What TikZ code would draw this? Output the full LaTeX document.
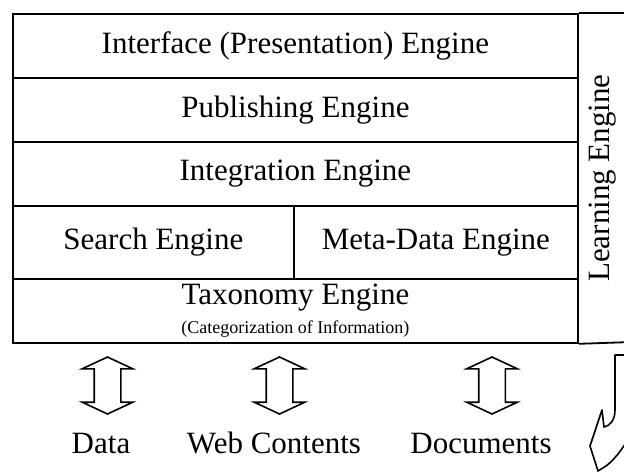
\documentclass[tikz,border=0pt]{standalone}
\usepackage{fontspec}
\setmainfont{Liberation Serif}
\usetikzlibrary{shapes.arrows, positioning}

\begin{document}
\begin{tikzpicture}[
  x=1pt, y=-1pt,
  every node/.style={font=\fontsize{31}{33}\selectfont},
  layer/.style={rectangle, draw=black, line width=1.8pt, inner sep=0pt, anchor=north west, minimum height=64pt, align=center},
  flow/.style={double arrow, draw=black, line width=1.6pt, rotate=90, inner sep=12.5pt, double arrow head extend=12pt, double arrow tip angle=130, minimum height=57pt},
  source/.style={inner sep=0pt},
  rule/.style={line width=1.8pt}
]
\useasboundingbox (0,0) rectangle (624,472);
% engine stack
\node[layer, minimum width=565pt] (iface) at (12,13) {Interface (Presentation) Engine};
\node[layer, minimum width=565pt] (pub) at (12,77) {Publishing Engine};
\node[layer, minimum width=565pt] (integ) at (12,141) {Integration Engine};
\node[layer, minimum width=281pt, minimum height=73pt] (search) at (12,205) {Search Engine};
\node[layer, minimum width=284pt, minimum height=73pt] (meta) at (293,205) {Meta-Data Engine};
\node[layer, minimum width=565pt] (tax) at (12,278) {Taxonomy Engine\\[-4pt]{\fontsize{18}{19}\selectfont (Categorization of Information)}};

% learning column, open at the right
\coordinate (edgeT) at (632,13);
\coordinate (edgeB) at (632,342);
\draw[rule] (iface.north east) -- (edgeT);
\draw[rule] (tax.south east) -- (edgeB);
\node[rotate=90] (learn) at (603,178) {Learning Engine};

% sources
\node[flow] (dataflow) at (107.5,385.5) {};
\node[flow] (webflow) at (279.5,385.5) {};
\node[flow] (docflow) at (492,385.5) {};
\node[source] (data) at (101,443) {Data};
\node[source] (web) at (274,443) {Web Contents};
\node[source] (docs) at (481,443) {Documents};

% feedback arrow
\draw[line width=1.6pt, line join=round] (632,355) -- (615,355) -- (615,410)
  .. controls (615,420) and (610,426) .. (604,427) -- (602,410) -- (590,446)
  -- (598,471) -- (606,466) .. controls (614,460) and (622,450) .. (630,436);
\end{tikzpicture}
\end{document}
